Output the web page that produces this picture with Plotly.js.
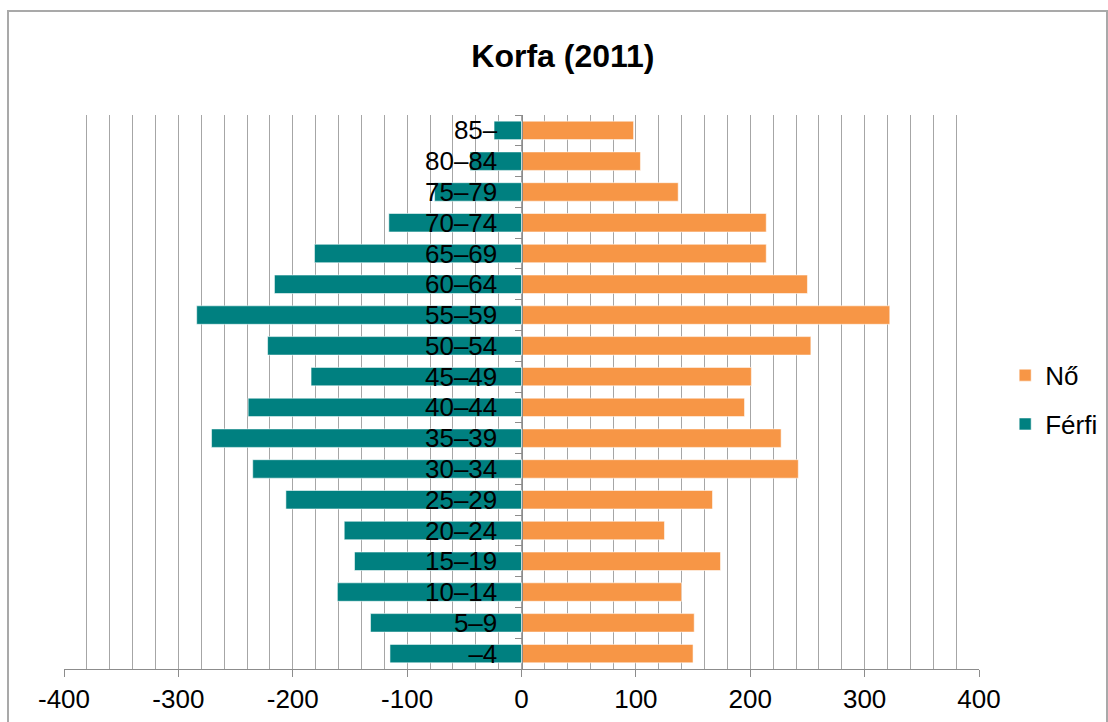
<!DOCTYPE html>
<html>
<head>
<meta charset="utf-8">
<script src="https://cdn.plot.ly/plotly-3.0.1.min.js"></script>
<style>
  html, body { margin: 0; padding: 0; background: #ffffff; overflow: hidden; }
  #chart { position: absolute; left: 0; top: 0; width: 1108px; height: 722px; }
  #frame { position: absolute; left: 7px; top: 10px; width: 1097px; height: 730px;
           border: 2px solid #a9a9a9; pointer-events: none; }
</style>
</head>
<body>
<div id="chart"></div>
<div id="frame"></div>
<script>
// Age groups (bottom to top)
const ageGroups = ['–4','5–9','10–14','15–19','20–24','25–29','30–34','35–39','40–44',
                   '45–49','50–54','55–59','60–64','65–69','70–74','75–79','80–84','85–'];
// Male values (drawn to the left, negative)
const maleValues = [-115,-132,-161,-146,-155,-206,-235,-271,-239,
                    -184,-222,-284,-216,-181,-116,-76,-45,-24];
// Female values
const femaleValues = [150,151,140,174,125,167,242,227,195,
                      201,253,322,250,214,214,137,104,98];
// X axis tick labels
const xTickVals = [-400,-300,-200,-100,0,100,200,300,400];
const xTickText = ['-400','-300','-200','-100','0','100','200','300','400'];

const fontFam = '"Liberation Sans", Arial, sans-serif';

const traces = [
  {
    type: 'bar', orientation: 'h', name: 'Nő',
    y: ageGroups, x: femaleValues, width: 0.6,
    legendgroup: 'f',
    marker: { color: '#F79646', line: { color: 'rgba(255,255,255,0.55)', width: 1 } }
  },
  {
    type: 'bar', orientation: 'h', name: 'Férfi',
    y: ageGroups, x: maleValues, width: 0.6,
    legendgroup: 'm',
    marker: { color: '#008080', line: { color: 'rgba(255,255,255,0.55)', width: 1 } }
  }
];

const layout = {
  width: 1108, height: 722,
  margin: { l: 64, r: 129, t: 115, b: 53, pad: 0, autoexpand: false },
  paper_bgcolor: '#ffffff', plot_bgcolor: '#ffffff',
  barmode: 'relative',
  font: { family: fontFam, color: '#000000', size: 26 },
  title: {
    text: '<b>Korfa (2011)</b>',
    font: { family: fontFam, size: 32, color: '#000000' },
    x: 0.508, xref: 'container', xanchor: 'center',
    y: 0.923, yref: 'container', yanchor: 'middle'
  },
  xaxis: {
    range: [-400, 400],
    tickvals: xTickVals, ticktext: xTickText,
    showgrid: true, gridcolor: '#a6a6a6', gridwidth: 1,
    minor: { dtick: 20, tick0: 0, showgrid: true, gridcolor: '#a6a6a6', gridwidth: 1, ticks: '' },
    zeroline: false,
    showline: true, linecolor: '#8c8c8c', linewidth: 1,
    ticks: 'outside', ticklen: 7, tickcolor: '#8c8c8c', tickwidth: 1,
    tickfont: { family: fontFam, size: 26, color: '#000000' },
    fixedrange: true
  },
  yaxis: {
    type: 'category',
    categoryorder: 'array', categoryarray: ageGroups,
    range: [-0.5, 17.5],
    tickmode: 'linear', tick0: 0, dtick: 1,
    anchor: 'free', position: 0.5, side: 'left',
    showgrid: false, zeroline: false,
    showline: true, linecolor: '#8c8c8c', linewidth: 1,
    ticks: 'outside', tickson: 'boundaries', ticklen: 7, tickcolor: '#8c8c8c', tickwidth: 1,
    ticklabelstandoff: 19,
    tickfont: { family: fontFam, size: 26, color: '#000000' },
    fixedrange: true
  },
  legend: {
    x: 1.0286, xanchor: 'left', y: 0.486, yanchor: 'middle',
    traceorder: 'grouped', tracegroupgap: 12,
    font: { family: fontFam, size: 26, color: '#000000' },
    bgcolor: 'rgba(0,0,0,0)'
  },
  showlegend: true
};

Plotly.newPlot('chart', traces, layout, { displayModeBar: false, staticPlot: true });
</script>
</body>
</html>
